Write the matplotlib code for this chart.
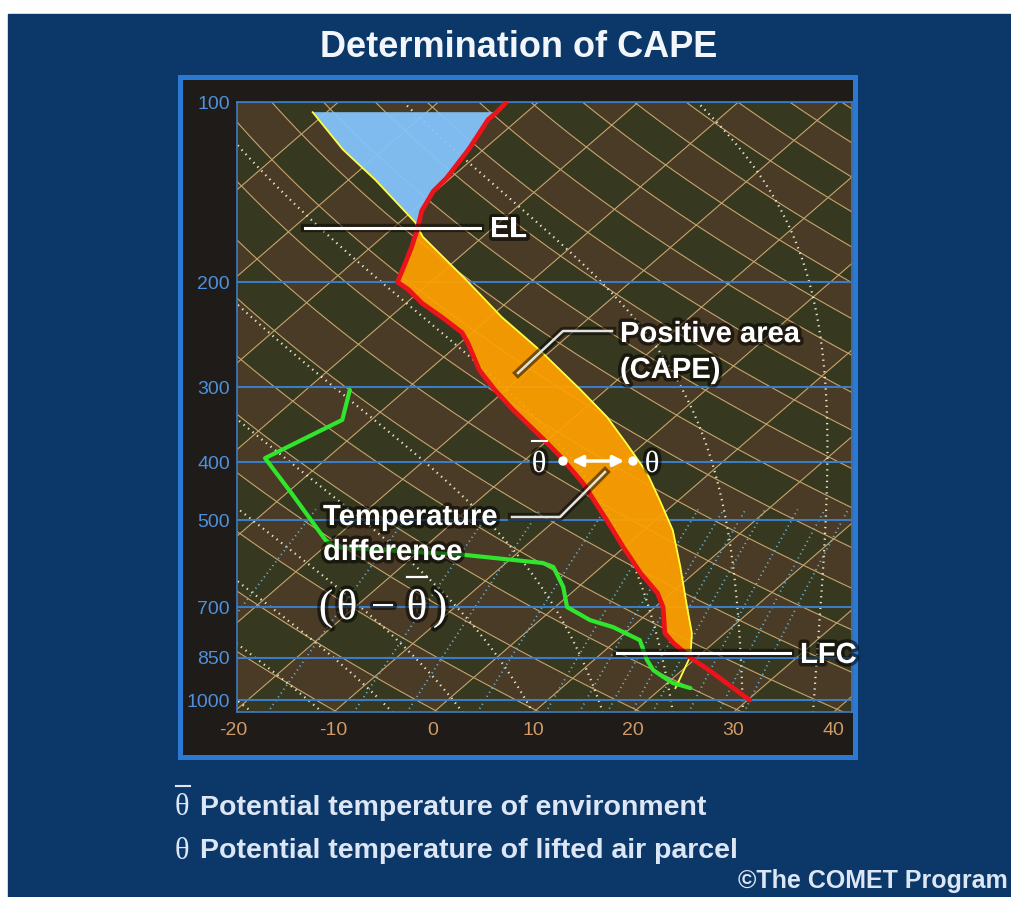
import numpy as np
import matplotlib
matplotlib.use("Agg")
import matplotlib.pyplot as plt
import matplotlib.patheffects as pe
from matplotlib.patches import Rectangle, Circle
from matplotlib.colors import ListedColormap

W, H = 1012, 897
SKEW = 30.0      # degC of x-shift per unit ln(p)
P_BOT = 1050.0   # x labels give the true temperature at this level

# pressure levels drawn as blue isobars / labels, temperature labels
isobars = [100, 200, 300, 400, 500, 700, 850, 1000]
temp_ticks = [-20, -10, 0, 10, 20, 30, 40]

# environment temperature (red), hPa / degC
env_p = [1000, 901, 848, 803, 773, 699, 662, 613, 555, 500, 434, 392, 366, 327,
         303, 281, 253, 243, 229, 217, 206, 200, 186, 175, 164, 152, 141, 134,
         120, 107, 104, 100]
env_t = [30.2, 23.4, 19.3, 16.0, 14.0, 10.8, 8.6, 4.6, -0.1, -4.9, -11.5, -16.8,
         -20.6, -27.0, -31.1, -34.9, -39.2, -41.0, -44.8, -48.4, -51.3, -53.3,
         -54.7, -55.9, -57.3, -59.1, -60.2, -60.4, -61.5, -63.0, -63.0, -63.2]

# lifted parcel (yellow)
parcel_p = [955, 844, 773, 699, 599, 520, 463, 417, 372, 336, 302, 260, 229, 199,
            168, 159, 135, 120, 104]
parcel_t = [21.4, 19.2, 16.7, 13.2, 7.9, 2.9, -1.9, -6.3, -11.8, -16.8, -22.7,
            -31.2, -38.8, -46.5, -56.0, -58.4, -67.3, -74.1, -81.4]

# dewpoint (green)
dew_p = [955, 937, 915, 891, 857, 794, 755, 735, 699, 647, 599, 590, 572, 555,
         540, 451, 394, 340, 303]
dew_t = [22.9, 20.6, 18.9, 17.1, 15.3, 12.3, 8.1, 5.0, 1.2, -1.5, -4.8, -6.3,
         -15.0, -28.9, -30.7, -39.5, -46.2, -42.9, -45.6]

LFC_P, EL_P = 846, 158

# background diagram lines
isotherms = range(-120, 50, 10)
dry_thetas = range(240, 480, 10)
moist_start = [-18, -11, -4, 3, 10, 17, 24, 31, 38]
mix_ratios = [0.4, 1, 2, 3, 5, 8, 10, 12, 14, 16, 20, 24, 28]

NAVY = "#0c3869"
FRAME = "#2b79d2"
FRAME_IN = "#1e1b19"
CELL_A, CELL_B = "#493b26", "#373820"
TAN = "#c6a46c"
DOT_WHITE = "#ece8c8"
DOT_CYAN = "#70b8dc"
ISOBAR = "#3b7cc4"
ORANGE = "#ffa000"
SKY = "#84c4fc"

SANS = "Liberation Sans"
SERIF = "Liberation Serif"


def skew(t, p):
    return np.asarray(t, float) + SKEW * np.log(P_BOT / np.asarray(p, float))


def moist_adiabat(t0, pp):
    out = [t0 + 273.15]
    for p1, p2 in zip(pp[:-1], pp[1:]):
        T = out[-1]
        tc = T - 273.15
        es = 6.112 * np.exp(17.67 * tc / (tc + 243.5))
        rs = 0.622 * es / (p1 - es)
        dtdp = (287.04 * T + 2.501e6 * rs) / (
            p1 * (1005.7 + 2.501e6 ** 2 * rs * 0.622 / (287.04 * T * T)))
        out.append(T + dtdp * (p2 - p1))
    return np.array(out) - 273.15


fig = plt.figure(figsize=(W / 100, H / 100), dpi=100, facecolor="white")

# page background and frame, in pixel units
bg = fig.add_axes([0, 0, 1, 1], zorder=0)
bg.set_xlim(0, W)
bg.set_ylim(H, 0)
bg.axis("off")
bg.add_patch(Rectangle((8, 14), W - 8, H - 14, color=NAVY))
bg.add_patch(Rectangle((180.5, 77.5), 675, 680, facecolor=FRAME_IN,
                       edgecolor=FRAME, lw=3.6))

# skew-T panel
ax = fig.add_axes([237 / W, 1 - 712 / H, 615 / W, 610 / H], zorder=1)
ax.set_yscale("log")
ax.set_xlim(-19.6, 41.9)
ax.set_ylim(1047, 100)

gx = np.linspace(-19.6, 41.9, 500)
gp = np.geomspace(1047, 100, 500)
GX, GP = np.meshgrid(gx, gp)
GT = GX - SKEW * np.log(P_BOT / GP)
GTH = (GT + 273.15) * (1000 / GP) ** 0.2857
cells = (np.floor(GT / 10) + np.floor(GTH / 10)) % 2
ax.pcolormesh(GX, GP, cells, cmap=ListedColormap([CELL_A, CELL_B]),
              shading="auto", zorder=0, rasterized=True)

pp = np.geomspace(P_BOT, 95, 400)
for t in isotherms:
    ax.plot(skew(np.full_like(pp, t), pp), pp, color=TAN, lw=0.8, zorder=1)
for th in dry_thetas:
    ax.plot(skew(th * (pp / 1000) ** 0.2857 - 273.15, pp), pp, color=TAN,
            lw=0.8, zorder=1)
for t0 in moist_start:
    ax.plot(skew(moist_adiabat(t0, pp), pp), pp, color=DOT_WHITE, lw=1.6,
            ls=(0, (0.6, 2.0)), zorder=1)
pm = np.geomspace(P_BOT, 480, 120)
for w in mix_ratios:
    lnr = np.log(w * pm / (622 + w) / 6.112)
    ax.plot(skew(243.5 * lnr / (17.67 - lnr), pm), pm, color=DOT_CYAN, lw=1.3,
            ls=(0, (0.6, 2.0)), zorder=1)

for p in isobars:
    ax.axhline(p, color=ISOBAR, lw=1.5, zorder=2)

ep, et = np.array(env_p), np.array(env_t)
qp, qt = np.array(parcel_p), np.array(parcel_t)

# positive area: parcel (LFC -> EL) then environment back down
m_q = (qp <= LFC_P) & (qp >= EL_P)
m_e = (ep < 850) & (ep > 160)
ax.fill(np.r_[skew(qt[m_q], qp[m_q]), skew(et[m_e], ep[m_e])[::-1]],
        np.r_[qp[m_q], ep[m_e][::-1]], color=ORANGE, alpha=0.93, lw=0, zorder=3)
# above the EL
m_q = qp <= 159
m_e = (ep >= 104) & (ep <= 164)
ax.fill(np.r_[skew(qt[m_q], qp[m_q]), skew(et[m_e], ep[m_e])[::-1]],
        np.r_[qp[m_q], ep[m_e][::-1]], color=SKY, alpha=0.94, lw=0, zorder=3)

ax.plot(skew(qt, qp), qp, color="#ffff3c", lw=1.3, zorder=4)
ax.plot(skew(et, ep), ep, color="#ea141a", lw=3.4, zorder=5,
        solid_joinstyle="round", solid_capstyle="round")
ax.plot(skew(dew_t, dew_p), dew_p, color="#30e62c", lw=3.0, zorder=5,
        solid_joinstyle="round", solid_capstyle="round")

ax.set_yticks(isobars)
ax.set_yticklabels([str(p) for p in isobars])
ax.yaxis.set_minor_locator(plt.NullLocator())
ax.tick_params(axis="y", length=0, pad=5, labelcolor="#4f90dc", labelsize=14)
for lab in ax.get_yticklabels():
    lab.set_family(SANS)
ax.set_xticks([])
for t in temp_ticks:
    ax.text(t, -0.03, str(t), transform=ax.get_xaxis_transform(), ha="center",
            va="center", color="#cf9a66", fontsize=14, family=SANS,
            clip_on=False)
for s in ax.spines.values():
    s.set_color(ISOBAR)
    s.set_linewidth(1.2)

# overlay: labels, leaders, legend
ov = fig.add_axes([0, 0, 1, 1], zorder=3)
ov.set_xlim(0, W)
ov.set_ylim(H, 0)
ov.axis("off")

glow = [pe.withStroke(linewidth=5, foreground="black", alpha=0.55)]
shade = [pe.Stroke(linewidth=6, foreground="black", alpha=0.5), pe.Normal()]
bold = dict(fontsize=21, weight="bold", family=SANS, color="white",
            va="baseline", path_effects=glow)

ov.text(519, 57, "Determination of CAPE", ha="center", va="baseline",
        fontsize=26, weight="bold", family=SANS, color="#f2f6fb")

ov.plot([305, 480], [228, 228], color="white", lw=2.2, path_effects=shade)
ov.text(490, 237, "EL", **bold)
ov.plot([617, 790], [653, 653], color="white", lw=2.2, path_effects=shade)
ov.text(800, 663, "LFC", **bold)

ov.plot([612, 563, 518], [331, 331, 373], color="#e2e2e2", lw=1.8,
        path_effects=shade)
ov.text(620, 342, "Positive area", **bold)
ov.text(620, 378, "(CAPE)", **bold)

ov.plot([512, 560, 605], [517, 517, 472], color="#e2e2e2", lw=1.8,
        path_effects=shade)
ov.text(323, 525, "Temperature", **bold)
ov.text(323, 560, "difference", **bold)

# (theta - theta-bar), glyph by glyph
for cx, g in [(326, "("), (347, "\u03b8"), (383, "\u2212"), (417, "\u03b8"),
              (440, ")")]:
    ov.text(cx, 619, g, fontsize=31, family=SERIF, color="white",
            ha="center", va="baseline", path_effects=glow)
ov.plot([407, 427], [577, 577], color="white", lw=1.6)

# theta-bar . <-> . theta
ov.text(539, 472, "\u03b8", fontsize=22, family=SERIF, color="white",
        ha="center", va="baseline", path_effects=glow)
ov.plot([532, 547], [441, 441], color="white", lw=1.5)
ov.text(652, 472, "\u03b8", fontsize=22, family=SERIF, color="white",
        ha="center", va="baseline", path_effects=glow)
for cx in (563, 633):
    ov.add_patch(Circle((cx, 461), 4, color="white", zorder=6))
ov.annotate("", xy=(627, 461), xytext=(569, 461),
            arrowprops=dict(arrowstyle="<|-|>", color="white", lw=2.5,
                            mutation_scale=16))

leg = "#dde6f5"
ov.text(182, 815, "\u03b8", fontsize=22, family=SERIF, color=leg,
        ha="center", va="baseline")
ov.plot([176, 190], [786, 786], color=leg, lw=1.5)
ov.text(200, 815, "Potential temperature of environment", fontsize=20.5,
        weight="bold", family=SANS, color=leg, va="baseline")
ov.text(182, 859, "\u03b8", fontsize=22, family=SERIF, color=leg,
        ha="center", va="baseline")
ov.text(200, 858, "Potential temperature of lifted air parcel", fontsize=20.5,
        weight="bold", family=SANS, color=leg, va="baseline")
ov.text(738, 888, "\u00a9The COMET Program", fontsize=18, weight="bold",
        family=SANS, color=leg, va="baseline")

fig.savefig("out.png", dpi=100, facecolor="white")
